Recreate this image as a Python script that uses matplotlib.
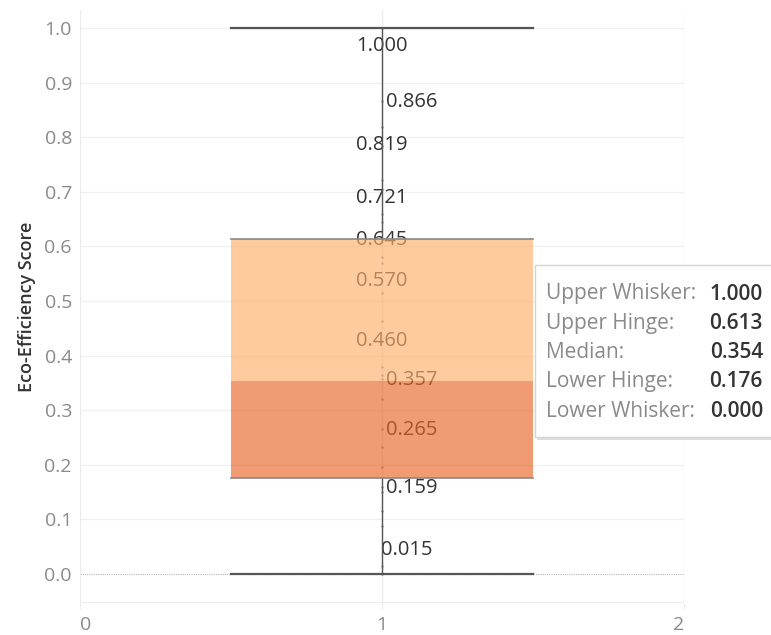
import matplotlib

matplotlib.use("Agg")
import matplotlib.pyplot as plt
from matplotlib.patches import Rectangle

# ---------- data ----------
WHISKER_HI = 1.000
HINGE_HI = 0.613
MEDIAN = 0.354
HINGE_LO = 0.176
WHISKER_LO = 0.000
BOX_X = 1

POINTS = [1.000, 0.866, 0.819, 0.721, 0.660, 0.645, 0.581, 0.570, 0.515,
          0.463, 0.380, 0.365, 0.357, 0.320, 0.265, 0.232, 0.196, 0.159,
          0.150, 0.115, 0.088, 0.015, 0.000]
LABEL_VALUES = [1.000, 0.866, 0.819, 0.721, 0.645, 0.570, 0.460, 0.357,
                0.265, 0.159, 0.015]
LABEL_PLACE = ["below", "right", "below", "below", "below", "below", "below",
               "right", "right", "right", "above"]

X_TICKS = [0, 1, 2]
Y_TICKS = [0.0, 0.1, 0.2, 0.3, 0.4, 0.5, 0.6, 0.7, 0.8, 0.9, 1.0]
Y_LABEL = "Eco-Efficiency Score"

TIP_NAMES = ["Upper Whisker:", "Upper Hinge:", "Median:", "Lower Hinge:",
             "Lower Whisker:"]
TIP_VALUES = [WHISKER_HI, HINGE_HI, MEDIAN, HINGE_LO, WHISKER_LO]

plt.rcParams["font.family"] = ["Open Sans", "DejaVu Sans"]

W, H = 771, 635
fig = plt.figure(figsize=(W / 100, H / 100), dpi=100)
ax = fig.add_axes([80 / W, 1 - 603 / H, (684 - 80) / W, (603 - 10) / H])

ax.set_xlim(0, 2)
ax.set_ylim(-0.0531, 1.033)
for s in ax.spines.values():
    s.set_visible(False)

# grid
for y in Y_TICKS[1:]:
    ax.axhline(y, color="#f0f0f0", lw=1, zorder=0)
ax.axhline(-0.0531, color="#ececec", lw=1.5, zorder=0)
ax.axhline(0, color="#b8b8b8", lw=0.8, ls=(0, (1, 1)), zorder=0)
for x in X_TICKS:
    ax.axvline(x, color="#ececec", lw=1, zorder=0)

# dots and labels (drawn under the translucent box)
ax.scatter([BOX_X] * len(POINTS), POINTS, s=3, color="#8796ad", zorder=1,
           linewidths=0)
for v, place in zip(LABEL_VALUES, LABEL_PLACE):
    if place == "below":
        off, ha, va = (0, -18), "center", "center"
    elif place == "right":
        off, ha, va = (4, -1), "left", "center"
    else:
        off, ha, va = (-1, 16), "left", "center"
    ax.annotate(f"{v:.3f}", (BOX_X, v), xytext=off, textcoords="offset pixels",
                ha=ha, va=va, fontsize=14.5, color="#333333", zorder=2)

# whisker line
ax.plot([BOX_X, BOX_X], [HINGE_HI, WHISKER_HI], color="#555555", lw=1, zorder=3)
ax.plot([BOX_X, BOX_X], [WHISKER_LO, HINGE_LO], color="#555555", lw=1, zorder=3)

# box
ax.add_patch(Rectangle((BOX_X - 0.5, MEDIAN), 1, HINGE_HI - MEDIAN,
                       facecolor="#fcaf6b", alpha=0.65, lw=0, zorder=4))
ax.add_patch(Rectangle((BOX_X - 0.5, HINGE_LO), 1, MEDIAN - HINGE_LO,
                       facecolor="#e86529", alpha=0.65, lw=0, zorder=4))
for y in (HINGE_HI, HINGE_LO):
    ax.plot([BOX_X - 0.5, BOX_X + 0.5], [y, y], color="#888888", lw=1.2, zorder=5)
for y in (WHISKER_HI, WHISKER_LO):
    ax.plot([BOX_X - 0.5, BOX_X + 0.5], [y, y], color="#555555", lw=1.6, zorder=5)

# ticks
ax.set_yticks(Y_TICKS)
ax.set_yticklabels([f"{t:.1f}" for t in Y_TICKS])
ax.set_xticks(X_TICKS)
ax.set_xticklabels([str(t) for t in X_TICKS])
ax.tick_params(axis="y", length=0, pad=5.8, labelsize=14, labelcolor="#8a8a8a")
ax.tick_params(axis="x", length=4, color="#ececec", pad=5, labelsize=14,
               labelcolor="#8a8a8a")
xl = ax.get_xticklabels()
xl[0].set_ha("left")
xl[-1].set_ha("right")
ax.set_ylabel(Y_LABEL, fontsize=13, color="#333333", fontweight="semibold",
              labelpad=6)

# tooltip
px = lambda x, y: (x / W, 1 - y / H)
fig.patches.append(Rectangle(px(537, 440), 240 / W, 172 / H,
                             transform=fig.transFigure, facecolor="#dddddd",
                             edgecolor="none", zorder=9))
fig.patches.append(Rectangle(px(535, 437), 240 / W, 172 / H,
                             transform=fig.transFigure, facecolor="white",
                             edgecolor="#d4d4d4", lw=1, zorder=10))
for i, (name, val) in enumerate(zip(TIP_NAMES, TIP_VALUES)):
    y = 294 + i * 29.3
    fig.text(*px(546, y), name, ha="left", va="center", fontsize=15,
             color="#8a8a8a", zorder=11)
    fig.text(*px(763, y), f"{val:.3f}", ha="right", va="center", fontsize=15,
             color="#333333", fontweight="semibold", zorder=11)

fig.savefig("out.png", dpi=100)
